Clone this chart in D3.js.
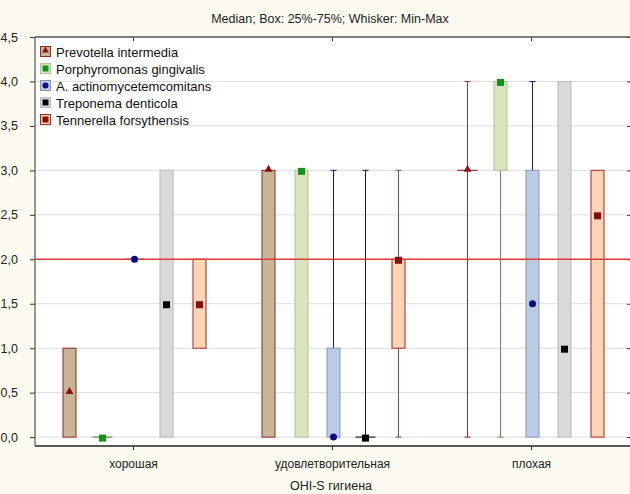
<!DOCTYPE html>
<html><head><meta charset="utf-8">
<script src="https://cdn.jsdelivr.net/npm/d3@7"></script>
<style>
html,body{margin:0;padding:0;background:#fdfaf0;}
svg{display:block;font-family:"Liberation Sans",Arial,sans-serif;}
</style></head><body>
<svg id="c" width="630" height="494"></svg>
<script>
const categories = ["хорошая", "удовлетворительная", "плохая"];
const seriesNames = ["Prevotella intermedia", "Porphyromonas gingivalis", "A. actinomycetemcomitans", "Treponema denticola", "Tennerella forsythensis"];
const yTicks = [0, 0.5, 1, 1.5, 2, 2.5, 3, 3.5, 4, 4.5];
const refValue = 2;

// per series: [хорошая, удовлетворительная, плохая]
const prevotellaMin = [0, 0, 0], prevotellaQ1 = [0, 0, 3], prevotellaMed = [0.5, 3, 3], prevotellaQ3 = [1, 3, 3], prevotellaMax = [1, 3, 4];
const porphyMin = [0, 0, 0], porphyQ1 = [0, 0, 3], porphyMed = [0, 3, 4], porphyQ3 = [0, 3, 4], porphyMax = [0, 3, 4];
const aaMin = [2, 0, 0], aaQ1 = [2, 0, 0], aaMed = [2, 0, 1.5], aaQ3 = [2, 1, 3], aaMax = [2, 3, 4];
const treponemaMin = [0, 0, 0], treponemaQ1 = [0, 0, 0], treponemaMed = [1.5, 0, 1], treponemaQ3 = [3, 0, 4], treponemaMax = [3, 3, 4];
const tennerellaMin = [1, 0, 0], tennerellaQ1 = [1, 1, 0], tennerellaMed = [1.5, 2, 2.5], tennerellaQ3 = [2, 2, 3], tennerellaMax = [2, 3, 3];

const seriesData = [
  {min: prevotellaMin, q1: prevotellaQ1, med: prevotellaMed, q3: prevotellaQ3, max: prevotellaMax},
  {min: porphyMin, q1: porphyQ1, med: porphyMed, q3: porphyQ3, max: porphyMax},
  {min: aaMin, q1: aaQ1, med: aaMed, q3: aaQ3, max: aaMax},
  {min: treponemaMin, q1: treponemaQ1, med: treponemaMed, q3: treponemaQ3, max: treponemaMax},
  {min: tennerellaMin, q1: tennerellaQ1, med: tennerellaMed, q3: tennerellaQ3, max: tennerellaMax}
];
const styles = [
  {fill: "#c6b596", stroke: "#8e2a22", whisker: "#8a3434", marker: "#8b1010", shape: "triangle"},
  {fill: "#d8e4be", stroke: "#b2c29a", whisker: "#5f8f52", marker: "#15921a", shape: "square"},
  {fill: "#b9cce4", stroke: "#8497b4", whisker: "#1a1a66", marker: "#0b0b85", shape: "circle"},
  {fill: "#d9d9d9", stroke: "#b8b8b8", whisker: "#202020", marker: "#000000", shape: "square"},
  {fill: "#fcd5b6", stroke: "#9e2b25", whisker: "#8a4a4a", marker: "#8b0c0c", shape: "square"}
];

const svg = d3.select("#c");
const L = 35, R = 631, T = 37, B = 446;
const x = d3.scaleBand().domain(categories).range([34, 631]).padding(0);
const xs = d3.scaleBand().domain(seriesNames).range([-80.5, 81.5]).padding(0);
const y = d3.scaleLinear().domain([-0.1, 4.5]).range([B, T]);
const fmt = d => d3.format(".1f")(d).replace(".", ",");

svg.append("rect").attr("x", L).attr("y", T).attr("width", R - L).attr("height", B - T).attr("fill", "#ffffff");

// title
svg.append("text").attr("x", 330).attr("y", 23).attr("text-anchor", "middle").attr("font-size", 12.5).attr("fill", "#222")
  .text("Median; Box: 25%-75%; Whisker: Min-Max");

// gridlines
svg.append("g").selectAll("line").data(yTicks.filter(v => v < 4.5)).join("line")
  .attr("x1", L).attr("x2", 627).attr("y1", d => y(d)).attr("y2", d => y(d))
  .attr("stroke", "#dcdcdc").attr("stroke-width", 1);

// left axis
const yAxis = d3.axisLeft(y).tickValues(yTicks).tickFormat(fmt).tickSize(5).tickPadding(12);
const gy = svg.append("g").attr("transform", `translate(${L},0)`).call(yAxis);
gy.select(".domain").remove();
gy.selectAll("line").attr("stroke", "#333");
gy.selectAll("text").attr("font-size", 12.5).attr("fill", "#222").attr("font-family", "Liberation Sans, Arial, sans-serif");

// right ticks
const gyr = svg.append("g").attr("transform", `translate(627,0)`).call(d3.axisRight(y).tickValues(yTicks).tickFormat("").tickSize(4));
gyr.select(".domain").remove();
gyr.selectAll("line").attr("stroke", "#333");

// bottom axis
const xAxis = d3.axisBottom(x).tickSize(4).tickPadding(9);
const gx = svg.append("g").attr("transform", `translate(0,${B})`).call(xAxis);
gx.select(".domain").remove();
gx.selectAll("line").attr("stroke", "#333");
gx.selectAll("text").attr("font-size", 12).attr("fill", "#222").attr("font-family", "Liberation Sans, Arial, sans-serif");

// top ticks
const gxt = svg.append("g").attr("transform", `translate(0,${T})`).call(d3.axisBottom(x).tickSize(4).tickFormat(""));
gxt.select(".domain").remove();
gxt.selectAll("line").attr("stroke", "#333");

// frame
svg.append("line").attr("x1", L).attr("x2", R).attr("y1", T).attr("y2", T).attr("stroke", "#555").attr("stroke-width", 1.5);
svg.append("line").attr("x1", L).attr("x2", R).attr("y1", B).attr("y2", B).attr("stroke", "#222").attr("stroke-width", 1.3);
svg.append("line").attr("x1", L).attr("x2", L).attr("y1", T).attr("y2", B).attr("stroke", "#555").attr("stroke-width", 1.2);

// axis title
svg.append("text").attr("x", 331).attr("y", 490).attr("text-anchor", "middle").attr("font-size", 12.5).attr("fill", "#222").text("OHI-S гигиена");

// boxes
const boxW = 13, capW = 6, flatW = 20;
const gBoxes = svg.append("g");
const gMarks = [];
seriesData.forEach((s, si) => {
  const st = styles[si];
  categories.forEach((c, ci) => {
    const cx = Math.round(x(c) + x.bandwidth() / 2 + xs(seriesNames[si]) + xs.bandwidth() / 2) + 0.5;
    const g = gBoxes.append("g");
    if (s.max[ci] > s.q3[ci]) {
      g.append("line").attr("x1", cx).attr("x2", cx).attr("y1", y(s.q3[ci])).attr("y2", y(s.max[ci])).attr("stroke", st.whisker);
      g.append("line").attr("x1", cx - capW / 2).attr("x2", cx + capW / 2).attr("y1", y(s.max[ci])).attr("y2", y(s.max[ci])).attr("stroke", st.whisker);
    }
    if (s.min[ci] < s.q1[ci]) {
      g.append("line").attr("x1", cx).attr("x2", cx).attr("y1", y(s.q1[ci])).attr("y2", y(s.min[ci])).attr("stroke", st.whisker);
      g.append("line").attr("x1", cx - capW / 2).attr("x2", cx + capW / 2).attr("y1", y(s.min[ci])).attr("y2", y(s.min[ci])).attr("stroke", st.whisker);
    }
    if (s.q3[ci] > s.q1[ci]) {
      g.append("rect").attr("x", cx - boxW / 2).attr("y", y(s.q3[ci])).attr("width", boxW).attr("height", y(s.q1[ci]) - y(s.q3[ci]))
        .attr("fill", st.fill).attr("stroke", st.stroke).attr("stroke-width", 1);
    } else {
      g.append("line").attr("x1", cx - flatW / 2).attr("x2", cx + flatW / 2).attr("y1", y(s.q1[ci])).attr("y2", y(s.q1[ci]))
        .attr("stroke", st.whisker).attr("stroke-width", 1.2);
    }
    gMarks.push({cx, cy: y(s.med[ci]), st});
  });
});

// reference line
svg.append("line").attr("x1", L).attr("x2", R).attr("y1", y(refValue)).attr("y2", y(refValue)).attr("stroke", "#e03c3c").attr("stroke-width", 1.4);

function drawMarker(g, cx, cy, st, size) {
  if (st.shape === "triangle") {
    g.append("path").attr("d", d3.symbol(d3.symbolTriangle, size * size * 0.55)()).attr("transform", `translate(${cx},${cy - 1})`).attr("fill", st.marker);
  } else if (st.shape === "circle") {
    g.append("circle").attr("cx", cx).attr("cy", cy).attr("r", size / 2).attr("fill", st.marker);
  } else {
    g.append("rect").attr("x", cx - size / 2).attr("y", cy - size / 2).attr("width", size).attr("height", size).attr("fill", st.marker);
  }
}
const gm = svg.append("g");
gMarks.forEach(m => drawMarker(gm, m.cx, m.cy + (m.st.shape === "square" ? 1 : 0), m.st, 7));

// legend
const lg = svg.append("g").attr("transform", "translate(40,46)");
seriesNames.forEach((n, i) => {
  const st = styles[i];
  const row = lg.append("g").attr("transform", `translate(0,${i * 17})`);
  row.append("rect").attr("x", 0.5).attr("y", 0.5).attr("width", 10).attr("height", 10).attr("fill", st.fill).attr("stroke", st.stroke);
  drawMarker(row, 5.5, 5.5, st, 6);
  row.append("text").attr("x", 16).attr("y", 10.5).attr("font-size", 13).attr("fill", "#111").text(n);
});
</script>
</body></html>
